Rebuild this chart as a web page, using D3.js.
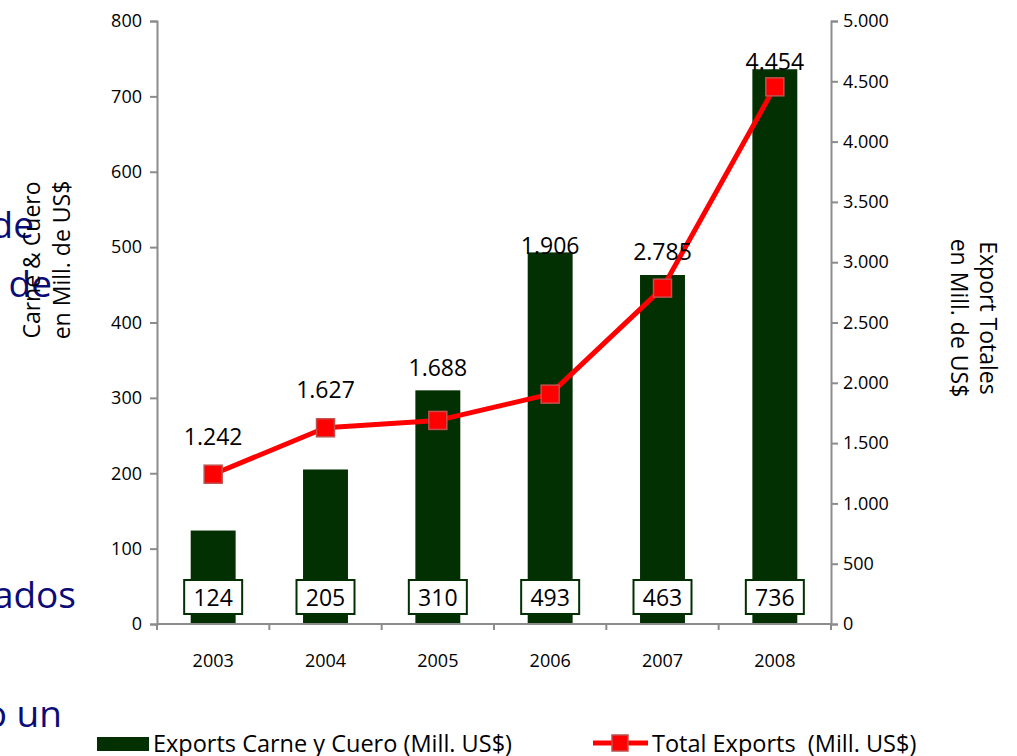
<!DOCTYPE html>
<html>
<head>
<meta charset="utf-8">
<script src="https://cdn.jsdelivr.net/npm/d3@7"></script>
<style>
  body { margin: 0; background: #fff; }
  svg text { font-family: "Open Sans", "Noto Sans", sans-serif; }
</style>
</head>
<body>
<svg id="chart" width="1017" height="756"></svg>
<script>
const years = ['2003','2004','2005','2006','2007','2008'];
const carneCuero = [124, 205, 310, 493, 463, 736];
const totalExports = [1242, 1627, 1688, 1906, 2785, 4454];
const leftTicks = [0,100,200,300,400,500,600,700,800];
const rightTicks = [0,500,1000,1500,2000,2500,3000,3500,4000,4500,5000];

const width = 1017, height = 756;
const margins = { top: 21, bottom: 132, left: 157, right: 186 };

const svg = d3.select('#chart');

// slide text left behind the chart
const slideText = [['de', 34, 238], ['de', 52, 297], ['ados', 76, 608], ['o un', 62, 727]];
svg.selectAll('.slide').data(slideText).enter().append('text')
   .attr('class','slide')
   .attr('x', d => d[1]).attr('y', d => d[2])
   .attr('text-anchor','end')
   .attr('fill','#0c0c78')
   .attr('font-size','37px')
   .text(d => d[0]);

const x = d3.scaleBand().domain(years)
   .range([margins.left, width - margins.right])
   .paddingInner(0.6).paddingOuter(0.3);
const yL = d3.scaleLinear().domain([0,800]).range([height - margins.bottom, margins.top]);
const yR = d3.scaleLinear().domain([0,5000]).range([height - margins.bottom, margins.top]);
const xc = d => x(d) + x.bandwidth()/2;

const fmt = d3.formatLocale({decimal: ',', thousands: '.', grouping: [3], currency: ['$','']}).format(',d');

// bars
svg.selectAll('.bar').data(years).enter().append('rect')
   .attr('class','bar')
   .attr('x', d => x(d))
   .attr('width', x.bandwidth())
   .attr('y', (d,i) => yL(carneCuero[i]))
   .attr('height', (d,i) => yL(0) - yL(carneCuero[i]))
   .attr('fill','#023002');

// axes
const axisL = svg.append('g')
   .attr('transform',`translate(${margins.left},0)`)
   .call(d3.axisLeft(yL).tickValues(leftTicks).tickSize(7).tickPadding(8));
const axisR = svg.append('g')
   .attr('transform',`translate(${width - margins.right},0)`)
   .call(d3.axisRight(yR).tickValues(rightTicks).tickFormat(fmt).tickSize(7).tickPadding(5));
const axisB = svg.append('g')
   .attr('transform',`translate(0,${height - margins.bottom})`)
   .call(d3.axisBottom(x).tickSize(0).tickPadding(30));
// x ticks between categories
svg.append('g').selectAll('line').data(d3.range(years.length + 1)).enter().append('line')
   .attr('x1', i => margins.left + i * (width - margins.left - margins.right) / years.length)
   .attr('x2', i => margins.left + i * (width - margins.left - margins.right) / years.length)
   .attr('y1', yL(0)).attr('y2', yL(0) + 6)
   .attr('stroke','#8c8c8c').attr('stroke-width',2);

[axisL, axisR, axisB].forEach(g => {
  g.attr('font-size', 18).attr('font-family', '"Open Sans", "Noto Sans", sans-serif');
  g.selectAll('path,line').attr('stroke','#8c8c8c').attr('stroke-width',2);
  g.selectAll('text').attr('fill','#000').style('font-size','18px');
});
axisB.select('.domain').attr('d', `M${margins.left},0H${width - margins.right}`);

// value boxes
const boxes = svg.selectAll('.vbox').data(years).enter().append('g').attr('class','vbox');
boxes.append('rect')
   .attr('x', d => xc(d) - 29).attr('y', yL(0) - 44)
   .attr('width', 58).attr('height', 34)
   .attr('fill','#fff').attr('stroke','#023002').attr('stroke-width',2);
boxes.append('text')
   .attr('x', d => xc(d)).attr('y', yL(0) - 18)
   .attr('text-anchor','middle').attr('font-size','23px').attr('fill','#000')
   .text((d,i) => carneCuero[i]);

// total exports line
const line = d3.line().x(d => xc(d.year)).y(d => yR(d.value));
const pts = years.map((y,i) => ({year: y, value: totalExports[i]}));
svg.append('path').datum(pts)
   .attr('d', line).attr('fill','none')
   .attr('stroke','#ff0000').attr('stroke-width',5).attr('stroke-linejoin','round');
svg.selectAll('.mk').data(pts).enter().append('rect')
   .attr('class','mk')
   .attr('x', d => xc(d.year) - 9).attr('y', d => yR(d.value) - 9)
   .attr('width', 18).attr('height', 18)
   .attr('fill','#ff0000').attr('stroke','#c0504d').attr('stroke-width',1.5);

// line labels (hand placed above markers as in the slide)
const labelDy = [-29, -30, -44, -140, -28, -17];
svg.selectAll('.lbl').data(pts).enter().append('text')
   .attr('class','lbl')
   .attr('x', d => xc(d.year))
   .attr('y', (d,i) => yR(d.value) + labelDy[i])
   .attr('text-anchor','middle').attr('font-size','23px').attr('fill','#000')
   .text(d => fmt(d.value));

// axis titles
const tl = svg.append('text').attr('transform','translate(40,260) rotate(-90)')
   .attr('text-anchor','middle').attr('font-size','23px').attr('fill','#000');
tl.append('tspan').attr('x',0).attr('dy',0).text('Carne & Cuero');
tl.append('tspan').attr('x',0).attr('dy',30).text('en Mill. de US$');
const tr = svg.append('text').attr('transform','translate(980,318) rotate(90)')
   .attr('text-anchor','middle').attr('font-size','23px').attr('fill','#000');
tr.append('tspan').attr('x',0).attr('dy',0).text('Export Totales');
tr.append('tspan').attr('x',0).attr('dy',29).text('en Mill. de US$');

// legend
const lg = svg.append('g');
lg.append('rect').attr('x',97).attr('y',737).attr('width',52).attr('height',14).attr('fill','#023002');
lg.append('text').attr('x',153).attr('y',752).attr('font-size','23.5px').attr('fill','#000')
  .text('Exports Carne y Cuero (Mill. US$)');
lg.append('line').attr('x1',593).attr('x2',648).attr('y1',743).attr('y2',743)
  .attr('stroke','#ff0000').attr('stroke-width',5);
lg.append('rect').attr('x',612).attr('y',735).attr('width',16).attr('height',16)
  .attr('fill','#ff0000').attr('stroke','#c0504d').attr('stroke-width',1.5);
lg.append('text').attr('x',652).attr('y',752).attr('font-size','23.5px').attr('fill','#000')
  .attr('xml:space','preserve').text('Total Exports  (Mill. US$)');
</script>
</body>
</html>
